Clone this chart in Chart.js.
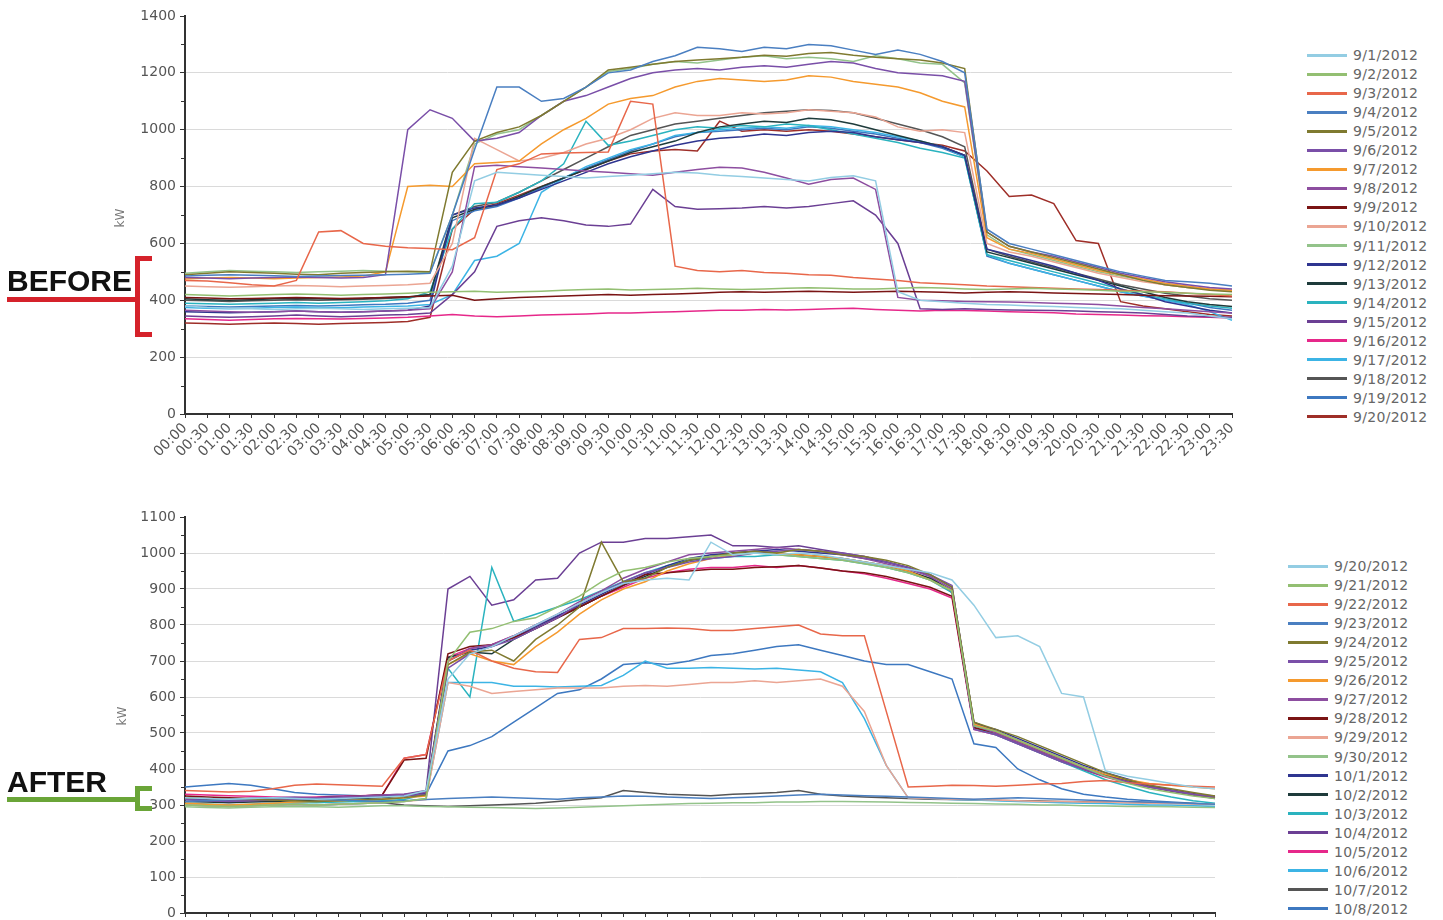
<!DOCTYPE html>
<html>
<head>
<meta charset="utf-8">
<title>kW before / after</title>
<script src="https://cdn.jsdelivr.net/npm/chart.js@4.4.1/dist/chart.umd.min.js"></script>
<style>
    body { margin: 0; width: 1443px; height: 920px; overflow: hidden; background: #fff; position: relative; font-family: 'DejaVu Sans', sans-serif; }
    canvas { position: absolute; left: 0; }
    #beforeChart { top: 0; }
    #afterChart { top: 500px; }
    .legend-item { position: absolute; height: 16px; display: flex; align-items: center; white-space: nowrap; }
    .legend-item .swatch { display: inline-block; width: 40px; height: 3px; }
    .legend-item .text { margin-left: 6px; font-size: 14px; color: #666; letter-spacing: 0.3px; }
    .axis-title { position: absolute; font-size: 12px; color: #777; transform: translate(-50%, -50%) rotate(-90deg); }
    .tag { position: absolute; left: 7px; font: bold 30px 'Liberation Sans', Arial, sans-serif; line-height: 30px; color: #111; }
    .tag-line { position: absolute; left: 7px; width: 130px; height: 5px; }
    .bracket { position: absolute; left: 135px; width: 12px; border-style: solid; border-width: 5px 0 5px 5px; }
</style>
</head>
<body>
<canvas id="beforeChart" width="1252" height="480"></canvas>
<canvas id="afterChart" width="1235" height="480"></canvas>

<div class="axis-title" style="left:120px;top:218px">kW</div>
<div class="axis-title" style="left:122px;top:716px">kW</div>

<div class="tag" style="top:266px">BEFORE</div>
<div class="tag-line" style="top:297px;background:#d5222b"></div>
<div class="bracket" style="top:256px;height:71px;border-color:#d5222b"></div>

<div class="tag" style="top:767px">AFTER</div>
<div class="tag-line" style="top:797px;background:#6aa538"></div>
<div class="bracket" style="top:786px;height:15px;border-color:#6aa538"></div>

<div id="beforeLegend"></div>
<div id="afterLegend"></div>

<script>
const timeLabels = ['00:00','00:30','01:00','01:30','02:00','02:30','03:00','03:30','04:00','04:30','05:00','05:30',
    '06:00','06:30','07:00','07:30','08:00','08:30','09:00','09:30','10:00','10:30','11:00','11:30',
    '12:00','12:30','13:00','13:30','14:00','14:30','15:00','15:30','16:00','16:30','17:00','17:30',
    '18:00','18:30','19:00','19:30','20:00','20:30','21:00','21:30','22:00','22:30','23:00','23:30'];

const beforeDates = ['9/1/2012','9/2/2012','9/3/2012','9/4/2012','9/5/2012','9/6/2012','9/7/2012','9/8/2012','9/9/2012','9/10/2012',
    '9/11/2012','9/12/2012','9/13/2012','9/14/2012','9/15/2012','9/16/2012','9/17/2012','9/18/2012','9/19/2012','9/20/2012'];
const afterDates = ['9/20/2012','9/21/2012','9/22/2012','9/23/2012','9/24/2012','9/25/2012','9/26/2012','9/27/2012','9/28/2012','9/29/2012',
    '9/30/2012','10/1/2012','10/2/2012','10/3/2012','10/4/2012','10/5/2012','10/6/2012','10/7/2012','10/8/2012'];

const lineColors = ['#93cde3','#93bf72','#e8674a','#4a7fc1','#7f7a30','#7a4fa8','#f59a2e','#8d4ea0','#7a1414','#eba593',
    '#93c38a','#2f3590','#1e3b3b','#2ab3bf','#6b3f94','#e6288a','#3cb4e5','#555555','#3d78c0','#9e2e28'];

// kW readings, one array per day (48 half-hour values)
const kw0901 = [380,375,372,370,368,370,372,370,368,370,372,375,520,820,850,845,840,835,830,835,840,845,850,848,840,835,830,825,820,832,838,820,430,400,395,390,385,383,380,378,375,372,370,365,360,355,345,335];
const kw0902 = [420,418,415,418,420,422,420,418,420,422,425,428,430,432,428,430,432,435,438,440,436,438,440,442,440,438,440,442,444,442,440,440,442,445,443,440,438,440,442,440,438,435,432,430,428,425,422,420];
const kw0903 = [470,468,462,455,450,470,640,645,600,590,585,582,578,620,860,880,915,918,920,922,1100,1090,520,505,500,505,498,495,490,488,480,475,470,462,458,455,450,448,445,442,440,438,435,432,430,425,420,415];
const kw0904 = [485,488,490,488,486,484,485,487,488,490,492,495,700,930,1150,1150,1100,1110,1150,1200,1210,1240,1260,1290,1285,1275,1290,1285,1300,1295,1280,1265,1280,1265,1240,1200,650,600,580,560,540,520,500,485,470,465,460,450];
const kw0905 = [490,495,500,498,495,492,490,495,498,500,502,500,850,960,990,1010,1050,1100,1150,1210,1220,1230,1240,1245,1250,1255,1262,1258,1268,1272,1262,1255,1250,1245,1235,1215,640,590,570,550,530,510,490,470,455,445,435,430];
const kw0906 = [480,478,476,478,480,482,480,478,480,490,1000,1070,1040,960,970,990,1050,1100,1120,1150,1180,1200,1210,1215,1210,1220,1225,1220,1230,1240,1235,1215,1200,1195,1190,1170,640,590,570,555,535,515,495,480,465,455,445,440];
const kw0907 = [475,478,480,478,476,478,480,482,485,500,800,805,800,880,885,890,950,1000,1040,1090,1110,1120,1150,1170,1180,1175,1170,1175,1190,1185,1170,1160,1150,1130,1100,1080,620,580,565,545,525,505,490,475,460,450,440,435];
const kw0908 = [365,362,360,358,360,362,360,358,360,362,365,370,500,870,875,870,865,860,855,850,845,840,850,860,868,865,850,830,808,825,830,790,410,400,398,396,395,394,392,390,388,385,380,375,370,365,360,355];
const kw0909 = [410,408,405,406,408,410,408,406,408,410,412,415,418,400,405,410,412,415,418,420,418,420,422,425,428,430,428,430,432,430,428,430,432,430,428,426,428,430,428,426,424,422,420,418,416,415,414,412];
const kw0910 = [450,448,446,448,450,452,450,448,450,452,455,460,600,970,930,890,900,920,950,970,1000,1040,1060,1050,1050,1060,1055,1060,1070,1065,1060,1045,1010,995,1000,990,600,570,555,535,515,495,480,465,455,445,440,435];
const kw0911 = [495,500,505,502,500,498,500,502,505,502,500,498,700,950,985,1000,1050,1100,1150,1205,1215,1230,1240,1235,1245,1255,1260,1250,1255,1250,1240,1260,1250,1235,1230,1165,630,580,560,540,520,500,485,470,455,445,438,432];
const kw0912 = [360,358,356,358,360,362,360,358,360,362,365,380,700,725,735,760,790,820,850,880,905,925,945,960,970,975,985,980,990,995,990,975,965,955,940,910,580,560,540,520,495,470,440,420,395,380,365,355];
const kw0913 = [405,402,400,402,405,406,405,404,406,410,412,420,690,720,735,765,800,830,860,890,920,940,960,990,1010,1020,1030,1025,1040,1035,1020,1000,980,960,940,910,570,550,530,510,490,470,450,430,410,395,385,378];
const kw0914 = [390,388,386,388,390,392,390,392,395,398,405,430,650,740,745,780,820,880,1030,945,960,980,1000,1010,1005,1015,1010,1020,1015,1000,985,970,955,935,920,900,560,540,520,500,480,460,440,420,405,390,380,372];
const kw0915 = [345,342,340,342,345,348,345,342,345,348,350,355,420,500,660,680,690,680,665,660,668,790,730,720,722,725,730,725,730,740,750,700,600,370,368,370,368,366,365,364,362,360,358,355,350,345,342,340];
const kw0916 = [335,332,330,332,335,336,335,334,336,338,340,345,350,345,342,345,348,350,352,355,355,358,360,362,365,365,368,366,368,370,372,368,365,362,365,364,362,360,358,356,352,350,348,346,345,342,340,338];
const kw0917 = [375,372,370,372,375,376,375,374,376,378,380,385,420,540,555,600,780,830,870,900,930,950,980,990,1000,1005,1010,1005,1015,1010,1000,990,975,960,940,905,560,530,510,490,470,450,430,415,400,385,360,330];
const kw0918 = [400,398,396,398,400,402,400,402,404,406,410,420,700,730,745,780,820,860,900,940,980,1000,1020,1030,1040,1050,1060,1065,1070,1068,1060,1040,1020,1000,975,940,580,555,535,515,495,475,455,440,425,415,405,400];
const kw0919 = [380,378,376,378,380,382,380,382,384,386,390,400,680,715,730,760,795,830,865,895,925,950,975,990,995,1000,1005,1000,1010,1005,995,985,970,955,935,905,555,530,510,490,470,450,430,415,400,390,375,365];
const kw0920 = [320,318,316,318,320,318,316,318,320,322,325,340,650,720,740,770,800,830,860,890,915,925,930,925,1030,995,1000,995,1000,995,985,975,965,955,945,925,855,765,770,740,610,600,395,380,370,360,350,345];
const kw0921 = [300,298,296,298,300,302,300,302,304,306,310,318,700,780,790,810,820,850,880,920,950,960,975,985,990,995,1000,995,990,985,980,970,960,945,925,895,520,505,480,455,430,405,380,360,345,335,325,318];
const kw0922 = [340,338,336,338,345,355,358,356,354,352,430,440,700,730,700,680,670,668,760,765,790,790,792,790,785,785,790,795,800,775,770,770,560,350,352,355,354,352,355,358,360,365,368,362,358,355,352,350];
const kw0923 = [310,312,315,318,320,318,316,314,312,310,312,315,318,320,322,320,318,316,320,322,325,324,322,320,318,320,322,325,328,330,328,326,324,322,320,318,316,318,320,318,316,314,312,310,308,306,304,302];
const kw0924 = [320,318,316,315,314,312,310,312,314,316,320,328,690,725,730,700,760,800,850,1030,920,930,960,980,990,1000,1005,1000,1010,1005,995,990,980,965,940,905,530,510,490,465,440,415,390,370,355,345,335,325];
const kw0925 = [315,312,310,312,314,316,318,320,322,324,326,330,680,720,740,760,790,820,860,890,920,945,960,975,985,990,1000,1005,1010,1005,1000,990,975,960,940,910,510,495,470,445,420,400,380,365,350,340,330,322];
const kw0926 = [305,302,300,302,305,308,310,312,314,316,320,325,690,720,700,690,740,780,830,870,900,920,950,970,985,995,1000,1000,995,990,985,975,965,950,925,895,525,505,480,455,430,405,385,370,360,355,350,345];
const kw0927 = [320,318,315,318,320,322,320,322,325,328,330,335,700,735,745,770,800,830,865,895,930,955,975,995,1000,1005,1010,1015,1010,1005,995,985,970,955,935,900,520,500,475,450,425,400,380,362,350,340,330,325];
const kw0928 = [325,322,320,318,316,318,320,322,325,328,425,430,720,740,745,765,790,820,850,880,910,940,945,950,955,955,960,962,965,958,950,945,935,920,905,880,515,500,475,450,425,400,380,365,350,340,330,320];
const kw0929 = [300,298,296,298,300,302,300,302,304,306,310,315,640,630,610,615,620,625,625,625,630,632,630,635,640,640,645,640,645,650,630,560,410,320,318,316,315,314,312,310,310,308,308,306,305,304,303,302];
const kw0930 = [295,293,292,294,295,296,295,294,296,298,298,296,295,294,293,292,290,292,294,296,298,300,302,304,305,306,306,308,308,310,310,309,308,307,306,305,304,303,302,300,300,298,297,296,296,295,294,293];
const kw1001 = [318,316,314,316,318,320,318,320,322,324,326,332,700,730,740,765,795,825,855,885,915,940,965,985,995,1000,1005,1010,1005,1000,995,985,975,960,940,905,525,510,485,460,435,410,390,372,355,342,332,322];
const kw1002 = [310,308,306,308,310,312,314,316,318,320,325,335,710,725,720,760,790,820,850,880,910,935,960,980,990,1000,1005,1000,995,990,985,975,965,950,930,895,530,505,480,455,430,405,385,368,352,340,330,320];
const kw1003 = [305,303,300,302,305,307,306,308,310,312,315,330,680,600,960,810,830,850,870,895,920,945,965,980,985,990,990,995,990,985,980,970,960,945,925,890,515,495,470,445,420,395,370,352,335,322,312,305];
const kw1004 = [315,312,310,312,315,318,320,322,325,328,330,340,900,935,855,870,925,930,1000,1030,1030,1040,1040,1045,1050,1020,1020,1015,1020,1010,1000,990,975,960,935,890,520,505,478,452,428,404,382,365,350,338,328,318];
const kw1005 = [330,328,326,324,322,320,322,324,326,328,430,440,710,735,745,770,800,825,850,880,905,930,945,955,960,960,965,960,965,958,950,942,930,915,900,875,510,495,470,445,420,398,378,362,350,340,330,322];
const kw1006 = [300,298,296,298,300,302,300,302,304,306,310,318,640,640,640,630,630,628,630,632,660,700,680,680,682,680,678,680,675,670,640,540,410,320,318,315,314,312,310,308,306,305,304,302,300,300,298,296];
const kw1007 = [300,298,296,298,300,302,300,302,304,306,300,298,296,298,300,302,305,310,315,320,340,335,330,328,326,330,332,335,340,330,325,322,320,318,316,315,314,313,312,311,310,309,308,307,306,305,304,302];
const kw1008 = [350,355,360,355,345,335,330,328,326,325,325,330,450,465,490,530,570,610,620,650,690,695,690,700,715,720,730,740,745,730,715,700,690,690,670,650,470,460,400,370,345,330,322,316,312,308,305,302];

const beforeDays = [kw0901,kw0902,kw0903,kw0904,kw0905,kw0906,kw0907,kw0908,kw0909,kw0910,
    kw0911,kw0912,kw0913,kw0914,kw0915,kw0916,kw0917,kw0918,kw0919,kw0920];
const afterDays = [kw0920,kw0921,kw0922,kw0923,kw0924,kw0925,kw0926,kw0927,kw0928,kw0929,
    kw0930,kw1001,kw1002,kw1003,kw1004,kw1005,kw1006,kw1007,kw1008];

Chart.defaults.font.family = "'DejaVu Sans', sans-serif";

//small ticks between the labelled ones on the kW axis
const minorTicks = {
    id: 'minorTicks',
    afterDraw(chart, args, options) {
        const yScale = chart.scales.y;
        const ctx = chart.ctx;
        ctx.save();
        ctx.strokeStyle = '#333';
        ctx.lineWidth = 1;
        ctx.beginPath();
        for (let v = options.major / 2; v < yScale.max; v += options.major) {
            const py = Math.round(yScale.getPixelForValue(v)) + 0.5;
            ctx.moveTo(yScale.right - 4, py);
            ctx.lineTo(yScale.right, py);
        }
        ctx.stroke();
        ctx.restore();
    }
};

function makeChart(canvasId, dates, days, yMax, yStep, plotTop, plotRight, axisHeight) {
    const datasets = days.map((values, i) => ({
        label: dates[i],
        data: values,
        borderColor: lineColors[i],
        backgroundColor: lineColors[i],
        borderWidth: 1.5,
        pointRadius: 0,
        tension: 0,
        fill: false
    }));

    const config = {
        type: 'line',
        data: { labels: timeLabels, datasets: datasets },
        options: {
            responsive: false,
            animation: false,
            devicePixelRatio: 1,
            events: [],
            layout: { padding: { left: 0, top: plotTop, right: plotRight, bottom: 0 } },
            plugins: {
                legend: { display: false },
                tooltip: { enabled: false },
                minorTicks: { major: yStep }
            },
            scales: {
                x: {
                    afterFit: (scale) => { scale.height = axisHeight; },
                    grid: { display: true, drawOnChartArea: false, drawTicks: true, tickLength: 4, color: '#333', tickColor: '#333' },
                    border: { color: '#333', width: 2 },
                    ticks: { autoSkip: false, minRotation: 45, maxRotation: 45, padding: 2, color: '#555', font: { size: 14 } }
                },
                y: {
                    min: 0,
                    max: yMax,
                    afterFit: (scale) => { scale.width = 185; },
                    grid: {
                        color: (ctx) => (ctx.tick && ctx.tick.value === yMax ? 'rgba(0,0,0,0)' : '#dadada'),
                        tickColor: '#333',
                        tickLength: 5,
                        lineWidth: 1
                    },
                    border: { color: '#333', width: 2 },
                    ticks: {
                        stepSize: yStep,
                        padding: 4,
                        color: '#555',
                        font: { size: 14 },
                        callback: (value) => String(value)
                    }
                }
            }
        },
        plugins: [minorTicks]
    };
    return new Chart(document.getElementById(canvasId), config);
}

function addLegend(chart, boxId, left, top) {
    const box = document.getElementById(boxId);
    chart.data.datasets.forEach((ds, i) => {
        const item = document.createElement('div');
        item.className = 'legend-item';
        item.style.left = left + 'px';
        item.style.top = (top + i * 19.05 - 8) + 'px';
        item.innerHTML = `<span class="swatch" style="background:${ds.borderColor}"></span><span class="text">${ds.label}</span>`;
        box.appendChild(item);
    });
}

const beforeChart = makeChart('beforeChart', beforeDates, beforeDays, 1400, 200, 16, 20, 66);
const afterChart = makeChart('afterChart', afterDates, afterDays, 1100, 100, 17, 20, 67);

addLegend(beforeChart, 'beforeLegend', 1307, 55);
addLegend(afterChart, 'afterLegend', 1288, 566);
</script>
</body>
</html>
